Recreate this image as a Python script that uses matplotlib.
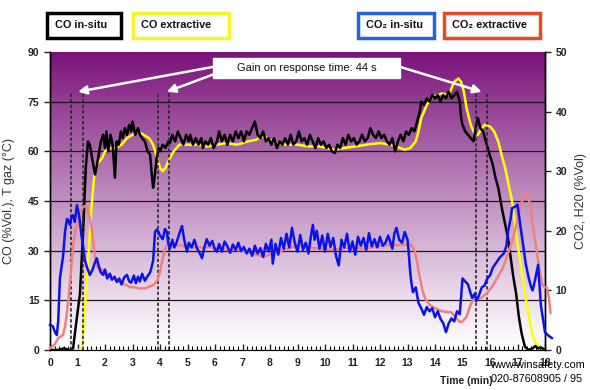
import numpy as np
import matplotlib
matplotlib.use("Agg")
import matplotlib.pyplot as plt
from matplotlib.patches import Rectangle
from matplotlib.ticker import MultipleLocator

plt.rcParams['font.family'] = ['Liberation Sans', 'DejaVu Sans']

# ---------------- data ----------------
co_insitu_t = [0, 0.3, 0.5, 0.7, 0.84, 0.95, 1.09, 1.2, 1.3, 1.38, 1.45, 1.55, 1.64, 1.75, 1.85, 1.93, 2.0, 2.05, 2.12, 2.2, 2.28, 2.36, 2.42, 2.5, 2.58, 2.65, 2.72, 2.8, 2.88, 2.95, 3.0, 3.1, 3.2, 3.27, 3.35, 3.45, 3.55, 3.64, 3.7, 3.75, 3.8, 3.88, 3.95, 4.0, 4.1, 4.2, 4.3, 4.36, 4.45, 4.55, 4.65, 4.75, 4.85, 4.95, 5.05, 5.1, 5.2, 5.3, 5.4, 5.5, 5.56, 5.65, 5.75, 5.85, 5.95, 6.07, 6.15, 6.25, 6.35, 6.45, 6.55, 6.65, 6.75, 6.85, 6.95, 7.05, 7.15, 7.25, 7.35, 7.45, 7.55, 7.65, 7.75, 7.85, 7.95, 8.05, 8.15, 8.25, 8.35, 8.45, 8.55, 8.65, 8.75, 8.85, 8.95, 9.05, 9.15, 9.25, 9.35, 9.45, 9.55, 9.65, 9.75, 9.85, 9.95, 10.05, 10.15, 10.25, 10.36, 10.45, 10.55, 10.65, 10.75, 10.85, 10.95, 11.05, 11.15, 11.25, 11.35, 11.45, 11.55, 11.65, 11.75, 11.85, 11.95, 12.05, 12.15, 12.25, 12.35, 12.45, 12.55, 12.65, 12.75, 12.85, 12.95, 13.05, 13.15, 13.25, 13.35, 13.45, 13.5, 13.6, 13.7, 13.8, 13.9, 14.0, 14.1, 14.2, 14.3, 14.4, 14.5, 14.6, 14.7, 14.8, 14.9, 14.95, 15.0, 15.1, 15.2, 15.3, 15.4, 15.5, 15.56, 15.65, 15.75, 15.85, 15.95, 16.1, 16.2, 16.3, 16.45, 16.55, 16.65, 16.75, 16.85, 16.95, 17.05, 17.15, 17.27, 17.4, 17.55, 17.65, 17.75, 17.85, 17.95, 18.0]
co_insitu_v = [0, 0, 0.5, 0, 0.5, 8, 17, 35, 55, 63, 62, 57, 53, 58, 63, 65, 61, 66, 60, 65, 62, 52, 63, 62, 66, 64, 67, 65, 68, 66, 69, 65, 67, 65, 64, 63, 60, 59, 53, 49, 52, 58, 61, 60, 62, 61, 63, 62.5, 65, 63, 66, 64, 62, 65, 63, 65, 62, 64, 62, 64, 61, 63, 62, 64, 61, 63, 66, 63, 65, 62, 65, 63, 66, 64, 66, 63, 66, 65, 67, 69, 65, 64, 66, 63, 64, 62, 64, 61, 63, 62, 64, 62, 65, 62, 63, 66, 63, 64, 62, 65, 63, 61, 64, 62, 63, 61, 62, 60, 59.5, 62, 61, 64, 62, 65, 63, 64, 62, 63, 65, 63, 64, 67, 65, 64, 66, 64, 65, 63, 62, 64, 60, 63, 65, 63, 66, 65, 67, 66, 69, 72, 75, 74, 76, 75, 77, 76, 77, 75, 77, 76, 78, 76, 77, 78, 75, 70, 68, 66, 65, 64, 63, 68, 70, 67, 66, 63, 60, 56, 52, 49, 42, 38, 34, 28, 22, 17, 10, 5, 1, 0, 0.5, 1.2, 0.5, 0.8, 0.3, 0]

co_extr_t = [0, 1.1, 1.16, 1.25, 1.38, 1.5, 1.6, 1.7, 1.8, 1.9, 2.0, 2.2, 2.4, 2.6, 2.8, 3.0, 3.2, 3.4, 3.6, 3.75, 3.9, 4.0, 4.1, 4.2, 4.36, 4.5, 4.7, 5.0, 5.35, 5.7, 6.07, 6.4, 6.8, 7.2, 7.5, 7.7, 7.9, 8.2, 8.6, 9.0, 9.4, 9.8, 10.3, 10.7, 11.1, 11.5, 12.0, 12.4, 12.9, 13.1, 13.3, 13.4, 13.5, 13.7, 13.9, 14.1, 14.25, 14.5, 14.6, 14.7, 14.85, 14.95, 15.05, 15.15, 15.3, 15.45, 15.56, 15.7, 15.8, 16.0, 16.15, 16.3, 16.45, 16.55, 16.7, 16.8, 16.9, 17.0, 17.15, 17.27, 17.4, 17.5, 17.6, 17.75, 17.9, 18.0]
co_extr_v = [0, 0, 0.5, 10, 26, 42, 52, 56, 57, 58, 60, 61, 61, 62, 64, 65, 66, 65, 64, 62, 58, 55, 54, 55, 58, 60, 62, 62, 62, 61.5, 62, 62.5, 62, 63, 63.5, 64.5, 64, 62.5, 62, 62, 61.5, 61.5, 60.5, 61, 61.5, 62, 62.5, 62, 60.5, 61, 63, 66, 70, 74, 76.5, 77, 77.5, 77, 79, 81, 82, 81, 78, 73, 68, 65, 65, 67, 68, 67.5, 66, 63, 58, 55, 49, 45, 39, 32, 24, 17, 11, 6, 3, 1, 0.5, 0.3]

co2_insitu_t = [0, 0.1, 0.18, 0.25, 0.3, 0.36, 0.42, 0.47, 0.55, 0.62, 0.68, 0.73, 0.78, 0.84, 0.9, 0.98, 1.04, 1.09, 1.15, 1.2, 1.27, 1.35, 1.45, 1.55, 1.62, 1.7, 1.78, 1.85, 1.93, 2.0, 2.08, 2.18, 2.25, 2.35, 2.43, 2.52, 2.6, 2.7, 2.8, 2.88, 2.95, 3.05, 3.12, 3.2, 3.27, 3.35, 3.45, 3.55, 3.64, 3.7, 3.75, 3.82, 3.88, 3.93, 4.0, 4.1, 4.18, 4.25, 4.3, 4.36, 4.45, 4.52, 4.6, 4.7, 4.8, 4.88, 4.98, 5.05, 5.15, 5.25, 5.35, 5.45, 5.53, 5.6, 5.7, 5.8, 5.9, 6.0, 6.07, 6.15, 6.25, 6.35, 6.45, 6.55, 6.65, 6.75, 6.85, 6.95, 7.05, 7.15, 7.25, 7.35, 7.45, 7.55, 7.65, 7.75, 7.85, 7.95, 8.05, 8.1, 8.2, 8.3, 8.4, 8.5, 8.6, 8.7, 8.8, 8.9, 9.0, 9.1, 9.2, 9.3, 9.4, 9.5, 9.56, 9.62, 9.7, 9.8, 9.9, 10.0, 10.1, 10.2, 10.3, 10.4, 10.5, 10.6, 10.7, 10.8, 10.9, 11.0, 11.1, 11.2, 11.3, 11.4, 11.5, 11.6, 11.7, 11.8, 11.9, 12.0, 12.1, 12.2, 12.3, 12.45, 12.52, 12.6, 12.7, 12.8, 12.9, 13.0, 13.05, 13.1, 13.15, 13.2, 13.3, 13.4, 13.5, 13.6, 13.7, 13.8, 13.9, 14.0, 14.1, 14.2, 14.3, 14.4, 14.5, 14.6, 14.7, 14.8, 14.9, 15.0, 15.1, 15.2, 15.3, 15.35, 15.45, 15.5, 15.6, 15.7, 15.8, 15.9, 16.0, 16.1, 16.25, 16.35, 16.5, 16.6, 16.65, 16.75, 16.8, 16.9, 17.0, 17.1, 17.2, 17.3, 17.4, 17.5, 17.55, 17.65, 17.75, 17.8, 17.85, 17.95, 18.0, 18.1, 18.25]
co2_insitu_v = [4.2, 4.0, 3.0, 2.5, 5, 12, 14, 15.5, 20, 22, 21.5, 21, 22.5, 22.6, 21.5, 24.3, 23, 21.5, 19, 17.6, 15, 13.8, 12.6, 13.5, 14.5, 15.4, 14, 13, 12.6, 13.5, 12, 12.8, 11.8, 12.3, 11.4, 12, 11, 12.2, 12.6, 11.5, 11.3, 12.5, 11.2, 12.3, 11.5, 12.8, 11.6, 12.4, 13, 14, 15, 19.8, 20.2, 20, 19.2, 18.6, 20.3, 19.8, 18, 17, 18.5, 17.2, 18, 19.5, 20.8, 18.5, 16.5, 18, 17.2, 18.5, 17, 16.2, 15.4, 17, 18.6, 17.5, 18.3, 16.8, 16.5, 17.8, 16.5, 18.2, 17.4, 16.3, 17.7, 16.8, 18, 16.6, 17.3, 16.2, 17, 15.8, 17.5, 16.2, 17.1, 15.6, 17.8, 16.5, 18.5, 14.5, 17.8, 16, 18.8, 17, 19.5, 17.2, 20.5, 18, 16.5, 19.3, 16.8, 18, 16.2, 19.5, 21, 18.5, 20, 17, 19.2, 16.5, 19.5, 17.3, 18.8, 15.8, 14.2, 18.5, 17.2, 19.5, 16.5, 18.2, 16, 19, 17.5, 18.8, 16.8, 19.6, 17.4, 18.6, 17.2, 19, 17.5, 18, 19.2, 17, 19.5, 20.5, 18.5, 18, 19.8, 18.5, 16, 13, 11, 9.7, 10.5, 7.9, 7, 5.9, 7.2, 6.5, 7, 5.5, 6.5, 5.2, 4.5, 3, 4.5, 5.3, 4.8, 6.5, 6, 12, 11.5, 11, 9.5, 8.7, 9.5, 8.2, 9.2, 10.5, 10.8, 12, 12.5, 13.8, 14.8, 15.5, 16.2, 17.5, 19.8, 22, 23.8, 24, 24.4, 21, 17.8, 14.5, 12.2, 10.5, 10, 12, 14.3, 11, 7.5, 4.5, 3, 2.5, 2]

co2_extr_t = [0, 0.15, 0.3, 0.4, 0.47, 0.55, 0.62, 0.68, 0.73, 0.8, 0.84, 0.92, 1.02, 1.1, 1.2, 1.3, 1.38, 1.45, 1.53, 1.6, 1.64, 1.72, 1.82, 1.9, 2.0, 2.1, 2.25, 2.4, 2.55, 2.73, 2.9, 3.1, 3.3, 3.5, 3.75, 3.85, 3.93, 4.02, 4.1, 4.18, 4.25, 4.35, 4.47, 4.6, 4.8, 5.1, 5.4, 5.8, 6.1, 6.4, 6.8, 7.2, 7.5, 7.8, 8.1, 8.5, 9.0, 9.4, 9.8, 10.2, 10.6, 11.0, 11.4, 11.8, 12.2, 12.65, 13.0, 13.15, 13.27, 13.35, 13.4, 13.48, 13.55, 13.65, 13.8, 14.0, 14.25, 14.6, 14.75, 14.9, 15.0, 15.15, 15.25, 15.35, 15.5, 15.7, 15.9, 16.07, 16.25, 16.43, 16.55, 16.7, 16.85, 16.98, 17.1, 17.2, 17.35, 17.45, 17.53, 17.6, 17.7, 17.8, 17.9, 18.0, 18.07, 18.15, 18.2]
co2_extr_v = [0.3, 0.8, 2, 2.3, 2.5, 4, 6.4, 9, 11.7, 15, 17.6, 20, 21.5, 23, 24, 24.2, 23.6, 22, 20, 17, 15.5, 14, 13.3, 13.5, 12.6, 12.8, 12, 11.8, 11.4, 11, 10.6, 10.5, 10.3, 10.4, 10.9, 11.3, 12, 13.5, 15.4, 16.8, 17.6, 18, 18, 17.6, 17.5, 17.3, 17.2, 17.3, 17, 16.8, 16.8, 16.5, 16, 15.7, 16.2, 16.8, 17.6, 17.2, 17, 16.8, 17, 17.2, 17, 17.3, 17.6, 17.6, 17.7, 17.6, 16.5, 14.8, 13.2, 11.5, 9.8, 8.6, 7.6, 7, 6.5, 6.3, 5.5, 4.7, 4.8, 5.6, 7, 8.2, 8.5, 8.8, 9.6, 10.6, 12, 13.4, 14.8, 16.8, 19, 21.3, 24, 25.5, 26.3, 24.5, 22, 19.5, 16.5, 13.5, 11, 10.5, 10.5, 8.5, 6.2]

dashed_x = [0.76, 1.2, 3.93, 4.33, 15.5, 15.9]
dashed_top = 78
left_ticks = [0, 15, 30, 45, 60, 75, 90]
right_ticks = [0, 10, 20, 30, 40, 50]
x_ticks = list(range(0, 19))

W, H = 590, 390
fig = plt.figure(figsize=(W / 100, H / 100), dpi=100)

def fx(px):
    return px / W

def fy(py):
    return 1 - py / H

ax = fig.add_axes([fx(50), fy(350), fx(545) - fx(50), fy(52) - fy(350)])
ax.set_xlim(0, 18)
ax.set_ylim(0, 90)

# gradient background
top = np.array([122, 18, 122]) / 255.0
bot = np.array([255, 255, 255]) / 255.0
n = 256
frac = np.linspace(0, 1, n)[:, None]  # 0 bottom -> 1 top
cols = bot + (top - bot) * frac ** 1.1
img = np.repeat(cols[:, None, :], 2, axis=1)
ax.imshow(img, extent=[0, 18, 0, 90], origin='lower', aspect='auto', zorder=0, interpolation='bilinear')

for v in left_ticks[1:-1]:
    ax.axhline(v, color='#1a1a1a', lw=0.9, zorder=1)

ax2 = ax.twinx()
ax2.set_ylim(0, 50)
ax2.set_xlim(0, 18)

ax.plot(co_extr_t, co_extr_v, color='#ffff00', lw=1.8, zorder=3)
ax.plot(co_insitu_t, co_insitu_v, color='black', lw=1.8, zorder=4)
ax2.plot(co2_extr_t, co2_extr_v, color='#f08080', lw=1.8, zorder=3, clip_on=False)
ax2.plot(co2_insitu_t, co2_insitu_v, color='#0a14e6', lw=1.8, zorder=4, clip_on=False)

for xv in dashed_x:
    ax.plot([xv, xv], [0, dashed_top], color='#2a2a2a', lw=1.2, ls=(0, (2, 1.3)), zorder=5)

# annotation
ax.add_patch(Rectangle((5.93, 82.0), 6.8, 6.2, facecolor='white', edgecolor='white', zorder=6))
ax.text(9.33, 85.1, 'Gain on response time: 44 s', ha='center', va='center', fontsize=8, color='#111111', zorder=7)
arrow = dict(arrowstyle='-|>,head_length=0.5,head_width=0.25', color='white', lw=1.8, shrinkA=0, shrinkB=0)
ax.annotate('', xy=(1.02, 78), xytext=(5.93, 85.5), arrowprops=arrow, zorder=6)
ax.annotate('', xy=(4.25, 78), xytext=(5.93, 83.2), arrowprops=arrow, zorder=6)
ax.annotate('', xy=(15.7, 78), xytext=(12.73, 85.5), arrowprops=arrow, zorder=6)

# ticks
ax.set_yticks(left_ticks)
ax.set_xticks(x_ticks)
ax.xaxis.set_minor_locator(MultipleLocator(1 / 6))
ax.tick_params(axis='x', which='major', direction='in', length=4, width=1, labelsize=7.5, pad=6, colors='#222222')
ax.tick_params(axis='x', which='minor', direction='in', length=3, width=0.8)
ax.tick_params(axis='y', which='major', direction='out', length=4, width=1, labelsize=7.5, colors='#222222')
ax2.set_yticks(right_ticks)
ax2.tick_params(axis='y', direction='out', length=4, width=1, labelsize=7.5, colors='#222222')
for lab in ax.get_xticklabels() + ax.get_yticklabels() + ax2.get_yticklabels():
    lab.set_fontweight('bold')

for a in (ax, ax2):
    a.spines['top'].set_visible(False)
    a.spines['left'].set_color('black')
    a.spines['right'].set_color('black')
    a.spines['bottom'].set_color('black')
    a.spines['left'].set_linewidth(1)
    a.spines['right'].set_linewidth(1)

ax.set_ylabel('CO (%Vol.), T gaz (°C)', fontsize=9, color='#333333', labelpad=9)
ax2.set_ylabel('CO2, H20 (%Vol)', fontsize=9, color='#333333', labelpad=6)

fig.text(fx(466), fy(381), 'Time (min)', ha='center', va='center', fontsize=7.5, fontweight='bold', color='#222222')
fig.text(fx(490), fy(365), 'www.winsafety.com', ha='left', va='center', fontsize=7.8, color='black')
fig.text(fx(491), fy(379), '020-87608905 / 95', ha='left', va='center', fontsize=7.8, color='black')

# legend boxes
legend_items = [
    (47, 121, 'black', 'CO in-situ'),
    (133, 229, '#f5f52a', 'CO extractive'),
    (358, 434, '#2563e0', 'CO₂ in-situ'),
    (444, 540, '#e84a25', 'CO₂ extractive'),
]
for x0, x1, ec, label in legend_items:
    fig.patches.append(Rectangle((fx(x0), fy(38)), fx(x1) - fx(x0), fy(13) - fy(38),
                                 transform=fig.transFigure, facecolor='white', edgecolor=ec, lw=2.5))
    fig.text(fx(x0 + 8), fy(25.5), label, ha='left', va='center', fontsize=7.8, fontweight='bold',
             color='#111111', family=['Liberation Sans', 'DejaVu Sans'])

fig.savefig('out.png', dpi=100)
